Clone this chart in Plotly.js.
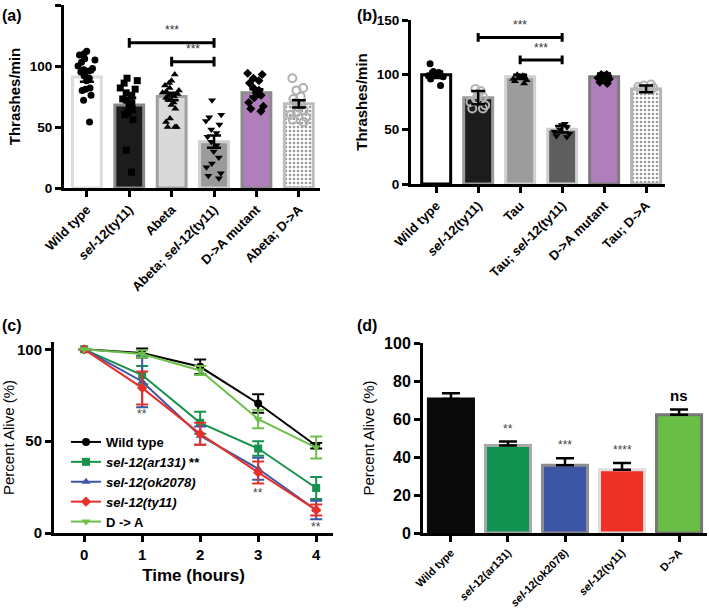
<!DOCTYPE html>
<html>
<head>
<meta charset="utf-8">
<script src="https://cdn.plot.ly/plotly-3.0.1.min.js"></script>
<style>body{margin:0;background:#fff}</style>
</head>
<body>
<div id="graph" style="width:709px;height:608px"></div>
<script>
// ---- données ----
// (a) Abeta
var catA = ['Wild type', 'sel-12(ty11)', 'Abeta', 'Abeta; sel-12(ty11)', 'D->A mutant', 'Abeta; D->A'];
var meanA = [91, 68, 75, 38, 78, 69];
var semA = [4, 6, 3, 5, 3, 3];
var ptsA = [
	[112, 110, 109, 106, 105, 103, 100, 98, 97, 96, 95, 92, 90, 88, 82, 81, 80, 76, 72, 54],
	[90, 88, 86, 82, 81, 78, 76, 73, 72, 70, 68, 65, 62, 60, 56, 31, 13],
	[93, 88, 86, 84, 82, 80, 79, 78, 77, 76, 75, 74, 72, 70, 68, 65, 57, 54, 50, 50, 50],
	[72, 60, 58, 55, 52, 48, 45, 42, 38, 35, 30, 25, 20, 17, 12, 10, 8],
	[94, 93, 90, 88, 86, 82, 80, 78, 76, 74, 70, 67, 65, 63],
	[90, 82, 80, 75, 73, 70, 68, 66, 64, 62, 60, 58, 56, 54]
];
// (b) Tau
var catB = ['Wild type', 'sel-12(ty11)', 'Tau', 'Tau; sel-12(ty11)', 'D->A mutant', 'Tau; D->A'];
var meanB = [100, 79, 98, 50, 98, 87];
var semB = [3, 6, 2, 3, 3, 3];
var ptsB = [
	[110, 103, 102, 101, 100, 100, 99, 98, 96, 90],
	[87, 85, 82, 80, 78, 75, 72, 69, 69],
	[100, 99, 98, 98, 97, 96, 95, 94, 92],
	[55, 54, 52, 50, 48, 46, 44, 43],
	[100, 100, 99, 99, 98, 97, 96, 93, 92],
	[91, 90, 89, 88, 87, 86]
];
// (c) survie
var heures = [0, 1, 2, 3, 4];
var souches = ['Wild type', '<i>sel-12(ar131)</i> **', '<i>sel-12(ok2078)</i>', '<i>sel-12(ty11)</i>', 'D -> A'];
var survie = [
	[100, 98, 90.5, 70.5, 47.5],
	[100, 86, 60, 46, 24.5],
	[100, 82.5, 53, 35, 12.5],
	[100, 79, 54, 33, 12.5],
	[100, 97.5, 88.5, 62, 46.5]
];
var survieErr = [
	[0, 2.5, 4, 5, 1.5],
	[0, 5, 6, 4, 6],
	[0, 14, 5, 6, 5],
	[0, 9, 6, 6, 3],
	[0, 2, 2.5, 5, 6]
];
var signifC = [[1, 65, '**'], [3, 22, '**'], [4, 3, '**']];
// (d) pourcentage vivants
var catD = ['Wild type', 'sel-12(ar131)', 'sel-12(ok2078)', 'sel-12(ty11)', 'D->A'];
var valD = [70.5, 46, 35.6, 33.3, 62.3];
var errD = [3, 2.2, 3.8, 3.5, 2.7];
var signifD = ['', '**', '***', '****', 'ns'];

// comparaisons (de, à, hauteur)
var crochetsA = [[1, 3, 119], [2, 3, 103.5]];
var crochetsB = [[1, 3, 134], [2, 3, 113.5]];

// ---- styles ----
var police = 'Liberation Sans, Arial, sans-serif';
var styleA = [
	{fill: '#ffffff', line: '#dcdcdc', sym: 'circle', mc: '#000'},
	{fill: '#1c1c1c', line: '#8a8a8a', sym: 'square', mc: '#000'},
	{fill: '#d9d9d9', line: '#a0a0a0', sym: 'triangle-up', mc: '#000'},
	{fill: '#9a9a9a', line: '#cfcfcf', sym: 'triangle-down', mc: '#000'},
	{fill: '#b07fbb', line: '#8a8a8a', sym: 'diamond', mc: '#000'},
	{fill: 'dots', line: '#bdbdbd', sym: 'circle-open', mc: '#b0b0b0'}
];
var styleB = [
	{fill: '#ffffff', line: '#000000', sym: 'circle', mc: '#000'},
	{fill: '#1c1c1c', line: '#9a9a9a', sym: 'circle-open', mc: '#b5b5b5'},
	{fill: '#9c9c9c', line: '#d0d0d0', sym: 'triangle-up', mc: '#000'},
	{fill: '#5e5e5e', line: '#d0d0d0', sym: 'triangle-down', mc: '#000'},
	{fill: '#b07fbb', line: '#7c7c7c', sym: 'diamond', mc: '#000'},
	{fill: 'dots', line: '#b5b5b5', sym: 'circle-open', mc: '#b5b5b5'}
];
var couleursC = ['#000000', '#16924c', '#3d57a7', '#e8302a', '#6cc04a'];
var symbolesC = ['circle', 'square', 'triangle-up', 'diamond', 'triangle-down'];
var couleursD = ['#0a0a0a', '#119250', '#3d55a5', '#ee3124', '#6abd45'];
var bordsD = ['#0a0a0a', '#a8a8a8', '#8f8f8f', '#dddddd', '#777777'];

function italSel(s) {
	return s.replace('sel', '<i>sel</i>');
}

var data = [];
var shapes = [];
var annotations = [];

// panneaux barres + points
function panneauBarres(cats, moy, sem, pts, styles, xa, ya, larg) {
	var idx = cats.map(function (c, i) { return i; });
	cats.forEach(function (c, i) {
		var st = styles[i];
		var mk = {color: st.fill, line: {color: st.line, width: 3}};
		if (st.fill == 'dots') {
			mk = {color: '#ffffff', line: {color: st.line, width: 3},
				pattern: {shape: '.', fgcolor: '#9a9a9a', bgcolor: '#ffffff', size: 4, solidity: 0.35}};
		}
		data.push({type: 'bar', x: [i], y: [moy[i]], width: larg, marker: mk,
			xaxis: xa, yaxis: ya, showlegend: false, hoverinfo: 'skip'});
	});
	// points individuels (jitter de plotly)
	cats.forEach(function (c, i) {
		var st = styles[i];
		var open = st.sym.indexOf('open') >= 0;
		data.push({type: 'box', y: pts[i], x0: i, boxpoints: 'all', jitter: 0.9, pointpos: 0,
			fillcolor: 'rgba(0,0,0,0)', line: {color: 'rgba(0,0,0,0)', width: 0},
			marker: {symbol: st.sym, color: st.mc, size: open ? 8 : 7, line: {color: st.mc, width: open ? 2 : 0}},
			xaxis: xa, yaxis: ya, showlegend: false, hoverinfo: 'skip'});
	});
	// moyenne ± sem
	data.push({type: 'scatter', mode: 'markers', x: idx, y: moy,
		marker: {size: 1, color: 'rgba(0,0,0,0)'},
		error_y: {type: 'data', array: sem, color: '#000', thickness: 2.5, width: 7},
		xaxis: xa, yaxis: ya, showlegend: false, hoverinfo: 'skip'});
}

panneauBarres(catA, meanA, semA, ptsA, styleA, 'x', 'y', 0.68);
panneauBarres(catB, meanB, semB, ptsB, styleB, 'x2', 'y2', 0.69);

function crochets(liste, xa, ya) {
	liste.forEach(function (c) {
		var d = 4;
		shapes.push({type: 'path', xref: xa, yref: ya,
			path: 'M' + c[0] + ',' + (c[2] - d) + ' L' + c[0] + ',' + (c[2] + d) +
				' M' + c[0] + ',' + c[2] + ' L' + c[1] + ',' + c[2] +
				' M' + c[1] + ',' + (c[2] - d) + ' L' + c[1] + ',' + (c[2] + d),
			line: {color: '#000', width: 3}});
		annotations.push({xref: xa, yref: ya, x: (c[0] + c[1]) / 2, y: c[2] + 3, text: '***',
			showarrow: false, yanchor: 'bottom', font: {family: police, size: 12, color: '#333'}});
	});
}
crochets(crochetsA, 'x', 'y');
crochets(crochetsB, 'x2', 'y2');

// (c) courbes de survie
souches.forEach(function (s, k) {
	data.push({type: 'scatter', mode: 'lines+markers', x: heures, y: survie[k], name: s,
		line: {color: couleursC[k], width: 2},
		marker: {symbol: symbolesC[k], size: 8, color: couleursC[k]},
		error_y: {type: 'data', array: survieErr[k], color: couleursC[k], thickness: 2, width: 6},
		xaxis: 'x3', yaxis: 'y3', showlegend: true, hoverinfo: 'skip'});
});
signifC.forEach(function (a) {
	annotations.push({xref: 'x3', yref: 'y3', x: a[0], y: a[1], text: a[2], showarrow: false,
		font: {family: police, size: 12, color: '#444'}});
});

// (d) barres
data.push({type: 'bar', x: catD.map(function (c, i) { return i; }), y: valD, width: 0.79,
	marker: {color: couleursD, line: {color: bordsD, width: 3}},
	error_y: {type: 'data', array: errD, arrayminus: errD.map(function () { return 0; }), color: '#000', thickness: 2.5, width: 9},
	xaxis: 'x4', yaxis: 'y4', showlegend: false, hoverinfo: 'skip'});
signifD.forEach(function (t, i) {
	if (!t) return;
	annotations.push({xref: 'x4', yref: 'y4', x: i, y: valD[i] + errD[i] + 2, text: t, showarrow: false,
		yanchor: 'bottom',
		font: {family: police, size: t == 'ns' ? 15 : 12, color: t == 'ns' ? '#000' : '#444', weight: t == 'ns' ? 'bold' : 'normal'}});
});

// étiquettes des panneaux
[['(a)', 0, 15], ['(b)', 355, 15], ['(c)', 0, 325], ['(d)', 355, 325]].forEach(function (p) {
	annotations.push({xref: 'paper', yref: 'paper', x: p[1] / 709, y: 1 - p[2] / 608, text: p[0],
		showarrow: false, xanchor: 'left', yanchor: 'middle',
		font: {family: police, size: 16, color: '#000', weight: 'bold'}});
});

function axeX(dom, rng, tv, tt, ang, fs, anchor) {
	return {domain: dom, range: rng, anchor: anchor, tickvals: tv, ticktext: tt, tickangle: ang,
		showline: true, linewidth: 3, linecolor: '#000', ticks: 'outside', ticklen: 6, tickwidth: 3,
		tickcolor: '#000', showgrid: false, zeroline: false, fixedrange: true,
		tickfont: {family: police, size: fs, color: '#000', weight: 'bold'}};
}
function axeY(dom, rng, dt, titre, tfs, fs, tw, anchor) {
	return {domain: dom, range: rng, anchor: anchor, dtick: dt, tick0: 0,
		showline: true, linewidth: 3, linecolor: '#000', ticks: 'outside', ticklen: 6, tickwidth: 3,
		tickcolor: '#000', showgrid: false, zeroline: false, fixedrange: true,
		tickfont: {family: police, size: fs, color: '#000', weight: 'bold'},
		title: {text: titre, standoff: 6, font: {family: police, size: tfs, color: '#000', weight: tw}}};
}

var layout = {
	width: 709, height: 608,
	margin: {l: 0, r: 0, t: 0, b: 0},
	paper_bgcolor: '#fff', plot_bgcolor: 'rgba(0,0,0,0)',
	barmode: 'overlay', boxmode: 'overlay',
	xaxis: axeX([64 / 709, 320 / 709], [-0.54, 5.5], [0, 1, 2, 3, 4, 5], catA.map(italSel), -45, 13, 'y'),
	yaxis: axeY([1 - 188 / 608, 1 - 5 / 608], [0, 150], 50, 'Thrashes/min', 15, 13.5, 'bold', 'x'),
	xaxis2: axeX([411 / 709, 665 / 709], [-0.6, 5.45], [0, 1, 2, 3, 4, 5], catB.map(italSel), -45, 13, 'y2'),
	yaxis2: axeY([1 - 184 / 608, 1 - 20 / 608], [0, 150], 50, 'Thrashes/min', 15, 13.5, 'bold', 'x2'),
	xaxis3: axeX([54 / 709, 333 / 709], [-0.52, 4.29], heures, heures.map(String), 0, 15, 'y3'),
	yaxis3: axeY([1 - 533 / 608, 1 - 342 / 608], [0, 104], 50, 'Percent Alive (%)', 15, 15, 'normal', 'x3'),
	xaxis4: axeX([423 / 709, 707 / 709], [-0.49, 4.49], [0, 1, 2, 3, 4], catD.map(italSel), -45, 11, 'y4'),
	yaxis4: axeY([1 - 533 / 608, 1 - 343 / 608], [0, 100], 20, 'Percent Alive (%)', 15, 16, 'normal', 'x4'),
	showlegend: true,
	legend: {x: 66 / 709, y: 1 - 427 / 608, xanchor: 'left', yanchor: 'top', bgcolor: 'rgba(0,0,0,0)',
		font: {family: police, size: 13, color: '#000', weight: 'bold'}, tracegroupgap: 0, itemwidth: 30},
	shapes: shapes,
	annotations: annotations
};
layout.xaxis3.title = {text: 'Time (hours)', standoff: 8, font: {family: police, size: 17, color: '#000', weight: 'bold'}};

Plotly.newPlot('graph', data, layout, {displayModeBar: false, staticPlot: true});
</script>
</body>
</html>
